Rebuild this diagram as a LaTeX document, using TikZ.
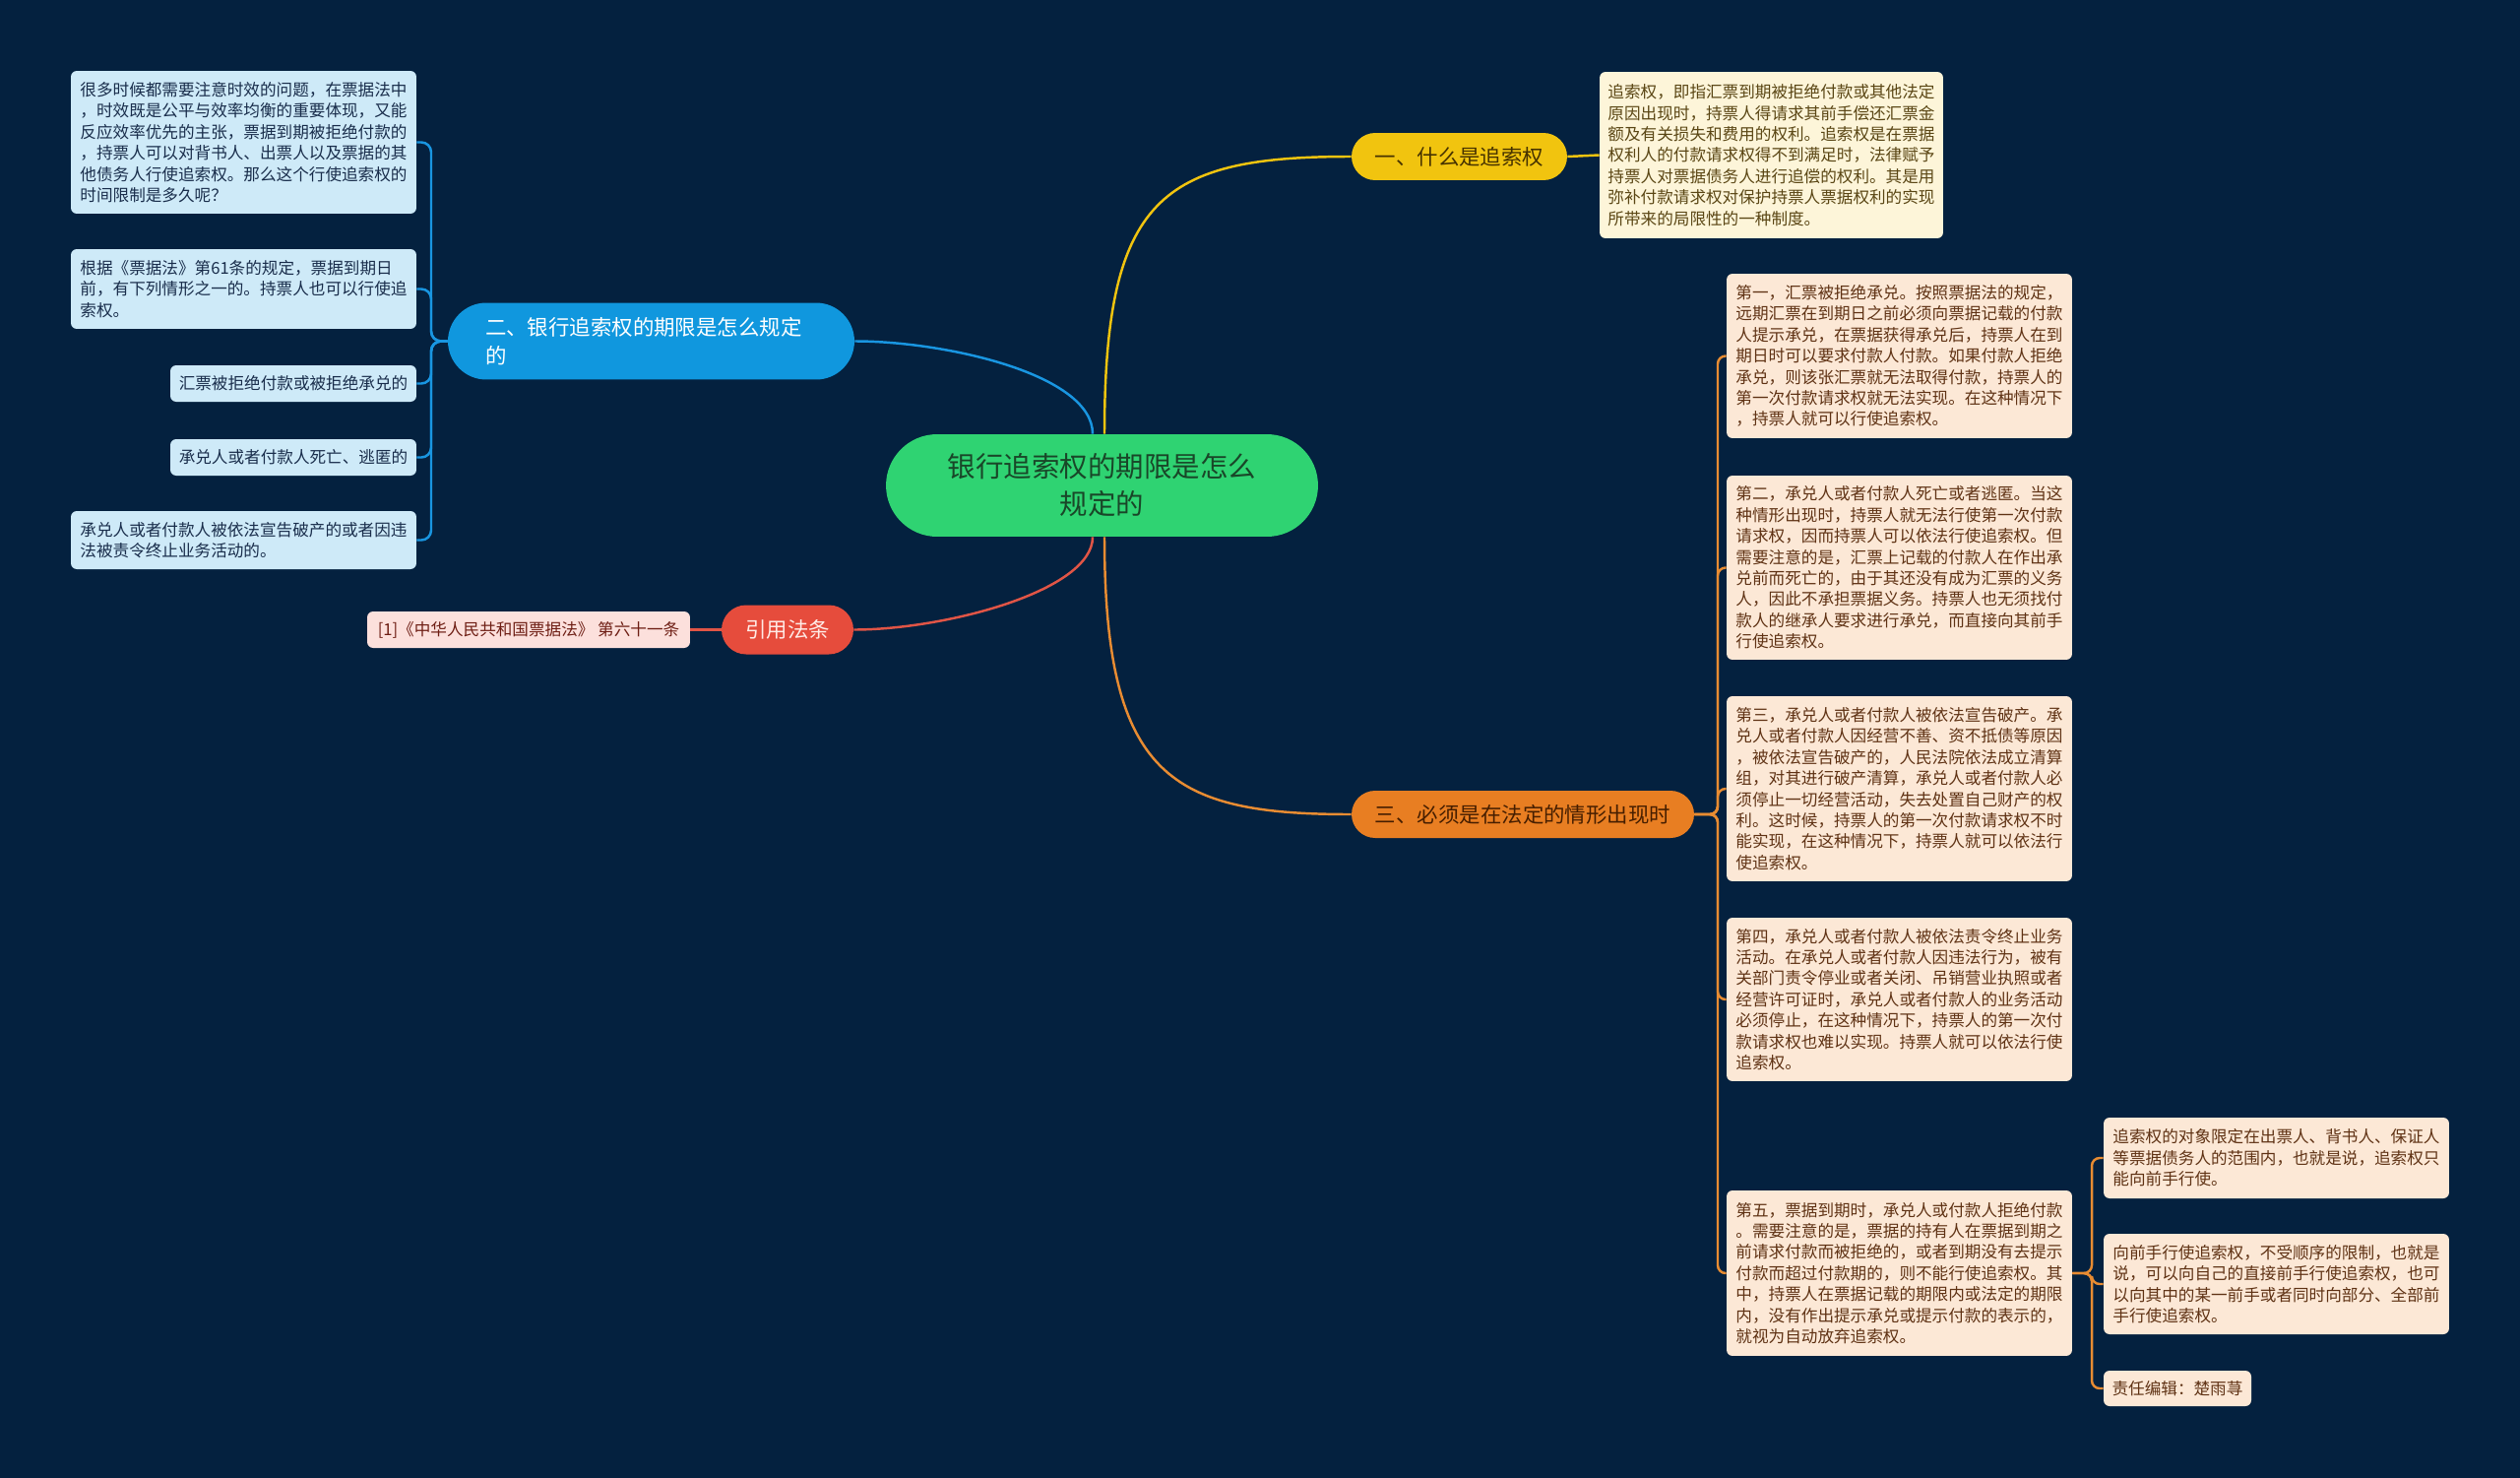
\documentclass[tikz,border=0pt]{standalone}
\usepackage{fontspec}
\setmainfont{Noto Sans CJK SC}
\usetikzlibrary{calc}
\definecolor{bgc}{RGB}{4,33,63}
\definecolor{rootfill}{RGB}{47,211,114}
\definecolor{roottext}{RGB}{25,70,40}
\definecolor{yfill}{RGB}{241,196,15}
\definecolor{ytext}{RGB}{70,50,0}
\definecolor{bfill}{RGB}{16,151,222}
\definecolor{rfill}{RGB}{230,76,60}
\definecolor{rtext}{RGB}{255,235,230}
\definecolor{ofill}{RGB}{232,126,34}
\definecolor{otext}{RGB}{70,30,0}
\definecolor{lbfill}{RGB}{206,234,248}
\definecolor{lbtext}{RGB}{25,45,75}
\definecolor{lyfill}{RGB}{253,245,217}
\definecolor{lytext}{RGB}{90,70,20}
\definecolor{lofill}{RGB}{252,232,214}
\definecolor{lotext}{RGB}{95,50,20}
\definecolor{lrfill}{RGB}{252,224,220}
\definecolor{lrtext}{RGB}{110,30,20}
\definecolor{yline}{RGB}{241,196,15}
\definecolor{bline}{RGB}{25,150,225}
\definecolor{rline}{RGB}{225,85,70}
\definecolor{oline}{RGB}{232,140,50}
\newcommand\mmleaf{\fontsize{9.45pt}{12.2pt}\selectfont}
\newcommand\mmbranch{\fontsize{12.2pt}{16.4pt}\selectfont}
\newcommand\mmroot{\fontsize{16.2pt}{21.6pt}\selectfont}
\tikzset{
  leafbox/.style={rounded corners=0.12cm, inner sep=0pt, align=left, font=\mmleaf},
  lblue/.style={leafbox, fill=lbfill, text=lbtext},
  lyellow/.style={leafbox, fill=lyfill, text=lytext},
  lorange/.style={leafbox, fill=lofill, text=lotext},
  lred/.style={leafbox, fill=lrfill, text=lrtext},
  pill/.style={inner sep=0pt, font=\mmbranch},
  conn/.style={line width=1.4pt},
}
\begin{document}
\begin{tikzpicture}[x=0.02cm,y=-0.02cm]
\useasboundingbox (0,0) rectangle (2560,1501);
\fill[bgc] (0,0) rectangle (2560,1501);

% root
\node[pill, fill=rootfill, text=roottext, font=\mmroot, align=center, rounded corners=1.04cm,
  minimum width=8.78cm, minimum height=2.08cm] (c) at (1119.5,493) {银行追索权的期限是怎么\\规定的};

% branches
\node[pill, fill=yfill, text=ytext, rounded corners=0.48cm, minimum width=4.38cm, minimum height=0.96cm]
  (b1) at (1482.5,159) {一、什么是追索权};
\node[pill, fill=bfill, text=white, rounded corners=0.78cm, minimum width=8.26cm, minimum height=1.56cm,
  text width=6.74cm, align=left] (b2) at (661.5,346.5) {二、银行追索权的期限是怎么规定\\的};
\node[pill, fill=rfill, text=rtext, rounded corners=0.5cm, minimum width=2.68cm, minimum height=1.0cm]
  (b4) at (800,639.5) {引用法条};
\node[pill, fill=ofill, text=otext, rounded corners=0.48cm, minimum width=6.96cm, minimum height=0.96cm]
  (b3) at (1547,827) {三、必须是在法定的情形出现时};

% yellow leaf
\node[lyellow, minimum width=6.98cm, minimum height=3.38cm] (yl) at (1799.5,157.5)
 {追索权，即指汇票到期被拒绝付款或其他法定\\原因出现时，持票人得请求其前手偿还汇票金\\额及有关损失和费用的权利。追索权是在票据\\权利人的付款请求权得不到满足时，法律赋予\\持票人对票据债务人进行追偿的权利。其是用\\弥补付款请求权对保护持票人票据权利的实现\\所带来的局限性的一种制度。};

% blue leaves
\node[lblue, minimum width=7.02cm, minimum height=2.9cm] (L1) at (247.5,144.5)
 {很多时候都需要注意时效的问题，在票据法中\\，时效既是公平与效率均衡的重要体现，又能\\反应效率优先的主张，票据到期被拒绝付款的\\，持票人可以对背书人、出票人以及票据的其\\他债务人行使追索权。那么这个行使追索权的\\时间限制是多久呢？};
\node[lblue, minimum width=7.02cm, minimum height=1.62cm] (L2) at (247.5,293.5)
 {根据《票据法》第61条的规定，票据到期日\\前，有下列情形之一的。持票人也可以行使追\\索权。};
\node[lblue, minimum width=5.0cm, minimum height=0.74cm] (L3) at (298,389.5)
 {汇票被拒绝付款或被拒绝承兑的};
\node[lblue, minimum width=5.0cm, minimum height=0.74cm] (L4) at (298,464.5)
 {承兑人或者付款人死亡、逃匿的};
\node[lblue, minimum width=7.02cm, minimum height=1.18cm] (L5) at (247.5,548.5)
 {承兑人或者付款人被依法宣告破产的或者因违\\法被责令终止业务活动的。};

% red leaf
\node[lred, minimum width=6.56cm, minimum height=0.74cm] (rl) at (537,639.5)
 {[1]《中华人民共和国票据法》 第六十一条};

% orange leaves
\node[lorange, minimum width=7.02cm, minimum height=3.34cm] (O1) at (1929.5,361.5)
 {第一，汇票被拒绝承兑。按照票据法的规定，\\远期汇票在到期日之前必须向票据记载的付款\\人提示承兑，在票据获得承兑后，持票人在到\\期日时可以要求付款人付款。如果付款人拒绝\\承兑，则该张汇票就无法取得付款，持票人的\\第一次付款请求权就无法实现。在这种情况下\\，持票人就可以行使追索权。};
\node[lorange, minimum width=7.02cm, minimum height=3.74cm] (O2) at (1929.5,576.5)
 {第二，承兑人或者付款人死亡或者逃匿。当这\\种情形出现时，持票人就无法行使第一次付款\\请求权，因而持票人可以依法行使追索权。但\\需要注意的是，汇票上记载的付款人在作出承\\兑前而死亡的，由于其还没有成为汇票的义务\\人，因此不承担票据义务。持票人也无须找付\\款人的继承人要求进行承兑，而直接向其前手\\行使追索权。};
\node[lorange, minimum width=7.02cm, minimum height=3.76cm] (O3) at (1929.5,801)
 {第三，承兑人或者付款人被依法宣告破产。承\\兑人或者付款人因经营不善、资不抵债等原因\\，被依法宣告破产的，人民法院依法成立清算\\组，对其进行破产清算，承兑人或者付款人必\\须停止一切经营活动，失去处置自己财产的权\\利。这时候，持票人的第一次付款请求权不时\\能实现，在这种情况下，持票人就可以依法行\\使追索权。};
\node[lorange, minimum width=7.02cm, minimum height=3.32cm] (O4) at (1929.5,1015)
 {第四，承兑人或者付款人被依法责令终止业务\\活动。在承兑人或者付款人因违法行为，被有\\关部门责令停业或者关闭、吊销营业执照或者\\经营许可证时，承兑人或者付款人的业务活动\\必须停止，在这种情况下，持票人的第一次付\\款请求权也难以实现。持票人就可以依法行使\\追索权。};
\node[lorange, minimum width=7.02cm, minimum height=3.36cm] (O5) at (1929.5,1293)
 {第五，票据到期时，承兑人或付款人拒绝付款\\。需要注意的是，票据的持有人在票据到期之\\前请求付款而被拒绝的，或者到期没有去提示\\付款而超过付款期的，则不能行使追索权。其\\中，持票人在票据记载的期限内或法定的期限\\内，没有作出提示承兑或提示付款的表示的，\\就视为自动放弃追索权。};
\node[lorange, minimum width=7.02cm, minimum height=1.64cm] (P1) at (2312.5,1176)
 {追索权的对象限定在出票人、背书人、保证人\\等票据债务人的范围内，也就是说，追索权只\\能向前手行使。};
\node[lorange, minimum width=7.02cm, minimum height=2.04cm] (P2) at (2312.5,1304)
 {向前手行使追索权，不受顺序的限制，也就是\\说，可以向自己的直接前手行使追索权，也可\\以向其中的某一前手或者同时向部分、全部前\\手行使追索权。};
\node[lorange, minimum width=3.0cm, minimum height=0.72cm] (P3) at (2212,1410)
 {责任编辑：楚雨荨};

% root connectors
\draw[conn, yline] ([xshift=0.05cm]c.north) .. controls (1122,200) and (1180,159) .. (b1.west);
\draw[conn, bline] ([xshift=-0.19cm]c.north) .. controls (1110,380) and (960,346.5) .. (b2.east);
\draw[conn, rline] ([xshift=-0.19cm]c.south) .. controls (1110,600) and (960,639.5) .. (b4.east);
\draw[conn, oline] ([xshift=0.05cm]c.south) .. controls (1122,790) and (1190,827) .. (b3.west);

% leaf connectors
\draw[conn, yline] (b1.east) -- (yl.west);
\draw[conn, rline] (rl.east) -- (b4.west);

\coordinate (bj) at (438,346.5);
\foreach \n in {L1,L2,L3,L4,L5}
  \draw[conn, bline, rounded corners=0.2cm] (b2.west) -- (bj) |- (\n.east);

\coordinate (oj) at (1745,827);
\foreach \n in {O1,O2,O3,O4,O5}
  \draw[conn, oline, rounded corners=0.16cm] (b3.east) -- (oj) |- (\n.west);

\coordinate (pj) at (2125,1293);
\foreach \n in {P1,P2,P3}
  \draw[conn, oline, rounded corners=0.16cm] (O5.east) -- (pj) |- (\n.west);
\end{tikzpicture}
\end{document}
